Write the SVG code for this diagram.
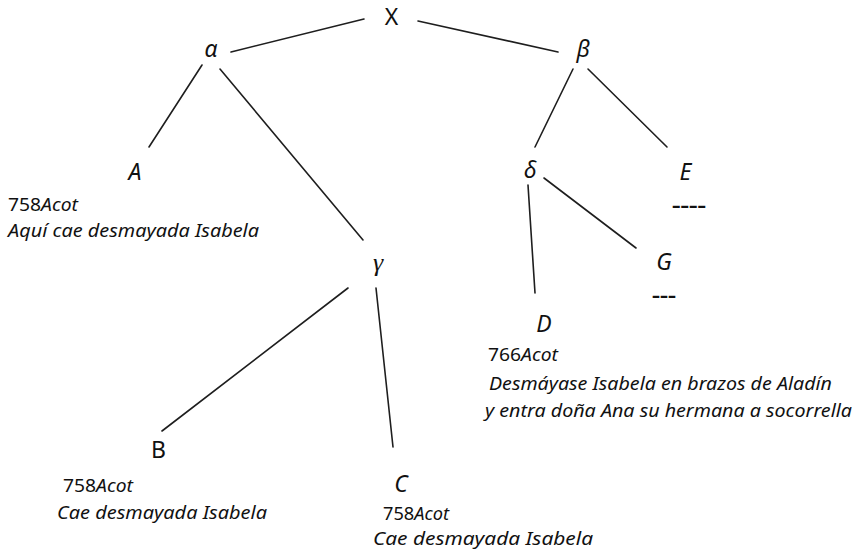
<svg xmlns="http://www.w3.org/2000/svg" width="855" height="552" viewBox="0 0 855 552">
<style>
  .bg { fill: #ffffff; }
  .edge { stroke: #1e1e1e; stroke-width: 1.6; fill: none; stroke-linecap: round; }
  .node { font-family: "Noto Sans", "Open Sans", sans-serif; font-size: 23px; fill: #111; text-anchor: middle; }
  .it { font-style: italic; }
  .greek { font-family: "Liberation Serif", serif; font-style: italic; font-size: 26px; fill: #111; text-anchor: middle; }
  .note { font-family: "Noto Sans", "Open Sans", sans-serif; font-size: 17.5px; fill: #111; }
  .dash { font-family: "Noto Sans", sans-serif; font-size: 18px; font-weight: bold; fill: #111; }
</style>
<rect class="bg" x="0" y="0" width="855" height="552"/>
<g id="connectors">
  <line class="edge" x1="364" y1="19" x2="231" y2="52"/>
  <line class="edge" x1="418" y1="21" x2="558" y2="52"/>
  <line class="edge" x1="202" y1="65" x2="149" y2="147"/>
  <line class="edge" x1="220" y1="69" x2="363" y2="240"/>
  <line class="edge" x1="348" y1="288" x2="162" y2="431"/>
  <line class="edge" x1="376" y1="288" x2="393" y2="447"/>
  <line class="edge" x1="573" y1="69" x2="535" y2="147"/>
  <line class="edge" x1="588" y1="69" x2="667" y2="147"/>
  <line class="edge" x1="544" y1="178" x2="636" y2="248"/>
  <line class="edge" x1="528" y1="185" x2="535" y2="293"/>
</g>
<g id="node-X"><text class="node" x="391.5" y="25">X</text></g>
<g id="node-alpha"><text class="node it" x="211" y="57">α</text></g>
<g id="node-beta"><text class="node it" x="583" y="57">β</text></g>
<g id="node-A">
  <text class="node it" x="135" y="180">A</text>
  <text class="note" x="8" y="211" textLength="70" lengthAdjust="spacingAndGlyphs">758<tspan class="it">Acot</tspan></text>
  <text class="note it" x="8" y="237" textLength="251" lengthAdjust="spacingAndGlyphs">Aquí cae desmayada Isabela</text>
</g>
<g id="node-gamma"><text class="greek" x="378" y="271">γ</text></g>
<g id="node-B">
  <text class="node" x="158.5" y="458">B</text>
  <text class="note" x="63" y="492" textLength="70" lengthAdjust="spacingAndGlyphs">758<tspan class="it">Acot</tspan></text>
  <text class="note it" x="57" y="519" textLength="210" lengthAdjust="spacingAndGlyphs">Cae desmayada Isabela</text>
</g>
<g id="node-C">
  <text class="node it" x="401" y="492">C</text>
  <text class="note" x="383" y="520" textLength="66" lengthAdjust="spacingAndGlyphs">758<tspan class="it">Acot</tspan></text>
  <text class="note it" x="373" y="545" textLength="220" lengthAdjust="spacingAndGlyphs">Cae desmayada Isabela</text>
</g>
<g id="node-delta"><text class="node it" x="530" y="178">δ</text></g>
<g id="node-E">
  <text class="node it" x="685.5" y="180">E</text>
  <text class="dash" x="672" y="212" textLength="34" lengthAdjust="spacingAndGlyphs">----</text>
</g>
<g id="node-G">
  <text class="node it" x="664" y="270">G</text>
  <text class="dash" x="652" y="302" textLength="24" lengthAdjust="spacingAndGlyphs">---</text>
</g>
<g id="node-D">
  <text class="node it" x="544" y="332">D</text>
  <text class="note" x="488" y="361" textLength="70" lengthAdjust="spacingAndGlyphs">766<tspan class="it">Acot</tspan></text>
  <text class="note it" x="489" y="390" textLength="343" lengthAdjust="spacingAndGlyphs">Desmáyase Isabela en brazos de Aladín</text>
  <text class="note it" x="485" y="417" textLength="367" lengthAdjust="spacingAndGlyphs">y entra doña Ana su hermana a socorrella</text>
</g>
</svg>
